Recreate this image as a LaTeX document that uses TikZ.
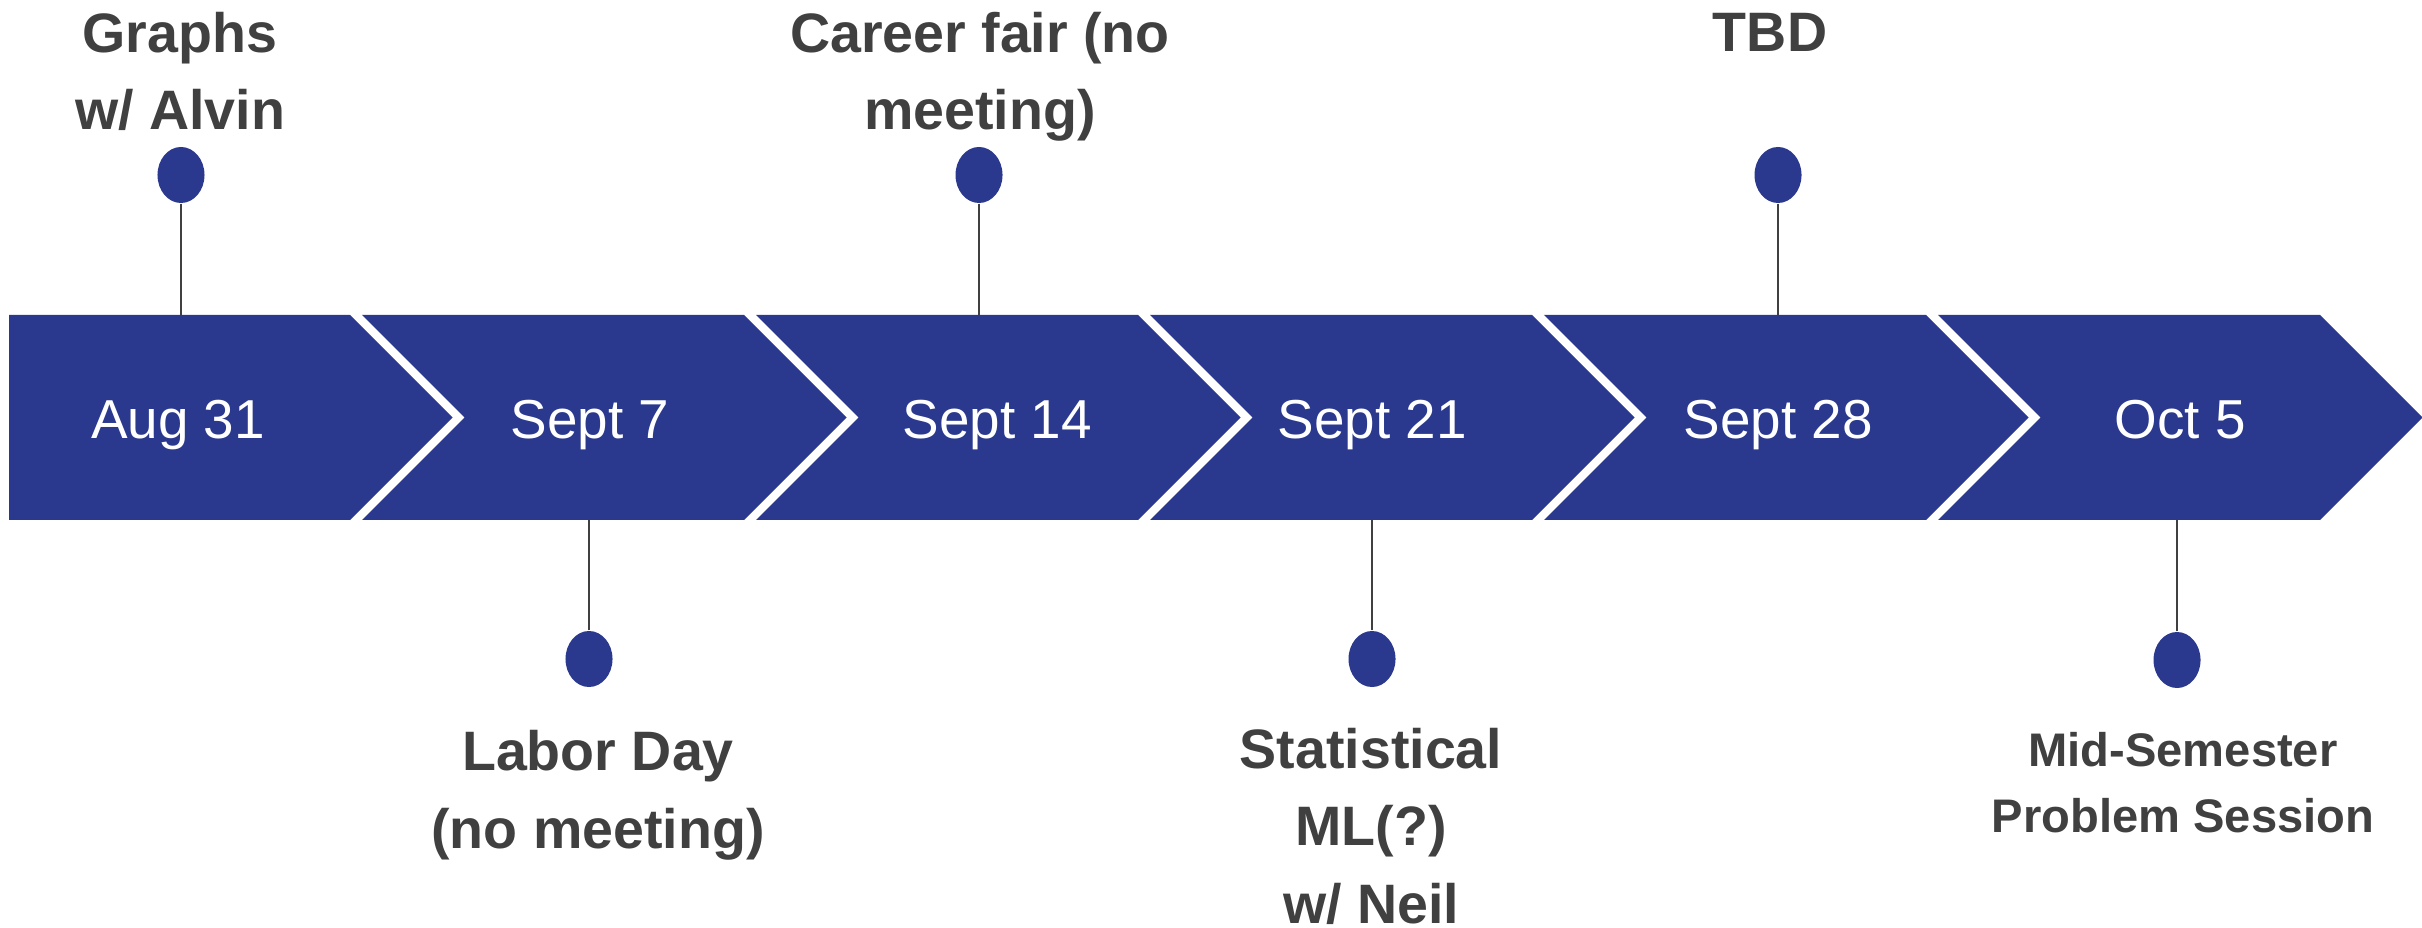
\documentclass[tikz,border=0pt]{standalone}
\usepackage{fontspec}
\setmainfont{Liberation Sans}
\usepackage{xcolor}
\usetikzlibrary{positioning, shapes.geometric}

\definecolor{bandblue}{RGB}{42,57,142}
\definecolor{inkgray}{RGB}{64,64,64}

\tikzset{
	datelabel/.style={text=white, inner sep=0pt, anchor=base, font=\fontsize{15.6}{18}\selectfont},
	eventlabel/.style={text=inkgray, inner sep=0pt, anchor=base, align=center, font=\bfseries\fontsize{15.8}{21.9}\selectfont},
	smallevent/.style={eventlabel, font=\bfseries\fontsize{13.4}{18.5}\selectfont},
	pindot/.style={ellipse, fill=bandblue, inner sep=0pt, minimum width=0.47cm, minimum height=0.56cm},
	stem/.style={draw=inkgray, line width=0.75pt}
}

\begin{document}
\begin{tikzpicture}[x=0.01cm, y=-0.01cm]
	\useasboundingbox (0,0) rectangle (2422,928);

	% chevron band
	\fill[bandblue] (9,315) -- (350,315) -- (452.5,417.5) -- (350,520) -- (9,520) -- cycle;
	\foreach \i in {1,...,5}{
		\pgfmathsetmacro{\c}{350+394*\i}
		\pgfmathsetmacro{\l}{\c-382}
		\fill[bandblue] (\l,315) -- (\c,315) -- (\c+102.5,417.5) -- (\c,520) -- (\l,520) -- (\l+102.5,417.5) -- cycle;
	}

	% dates
	\node[datelabel] (aug31) at (178,439) {Aug 31};
	\node[datelabel] (sep7) at (590,439) {Sept 7};
	\node[datelabel] (sep14) at (997,439) {Sept 14};
	\node[datelabel] (sep21) at (1372,439) {Sept 21};
	\node[datelabel] (sep28) at (1778,439) {Sept 28};
	\node[datelabel] (oct5) at (2180,439) {Oct 5};

	% pins above
	\node[pindot] (pin1) at (181,175) {};
	\node[pindot] (pin3) at (979,175) {};
	\node[pindot] (pin5) at (1778,175) {};
	\coordinate (band1) at (181,315);
	\coordinate (band3) at (979,315);
	\coordinate (band5) at (1778,315);
	\draw[stem] (pin1) -- (band1);
	\draw[stem] (pin3) -- (band3);
	\draw[stem] (pin5) -- (band5);

	% pins below
	\node[pindot] (pin2) at (589,659) {};
	\node[pindot] (pin4) at (1372,659) {};
	\node[pindot] (pin6) at (2177,660) {};
	\coordinate (band2) at (589,520);
	\coordinate (band4) at (1372,520);
	\coordinate (band6) at (2177,520);
	\draw[stem] (pin2) -- (band2);
	\draw[stem] (pin4) -- (band4);
	\draw[stem] (pin6) -- (band6);

	% events (base = last line)
	\node[eventlabel] (graphs) at (180,130) {Graphs\\w/ Alvin};
	\node[eventlabel] (fair) at (980,130) {Career fair (no\\meeting)};
	\node[eventlabel] (tbd) at (1770,52) {TBD};
	\node[eventlabel] (labor) at (598,848) {Labor Day\\(no meeting)};
	\node[eventlabel] (statml) at (1371,923) {Statistical\\ML(?)\\w/ Neil};
	\node[smallevent] (midsem) at (2183,832) {Mid-Semester\\Problem Session};
\end{tikzpicture}
\end{document}
